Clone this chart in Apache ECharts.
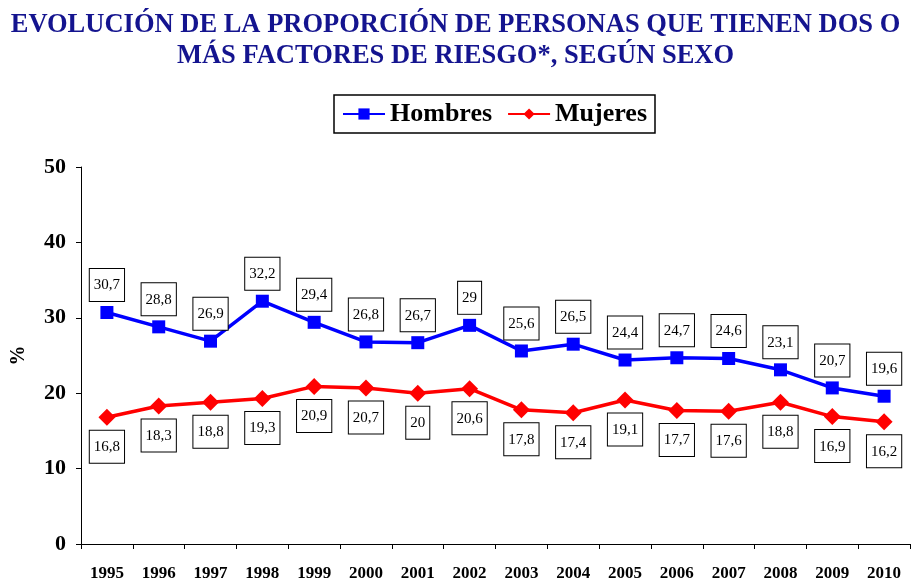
<!DOCTYPE html>
<html><head><meta charset="utf-8">
<script src="https://cdn.jsdelivr.net/npm/echarts@6/dist/echarts.min.js"></script>
<style>html,body{margin:0;padding:0;background:#fff}#c{width:911px;height:585px}</style>
</head><body><div id="c"></div>
<script>
const years = ['1995','1996','1997','1998','1999','2000','2001','2002','2003','2004','2005','2006','2007','2008','2009','2010'];
const hombres = [30.7,28.8,26.9,32.2,29.4,26.8,26.7,29,25.6,26.5,24.4,24.7,24.6,23.1,20.7,19.6];
const mujeres = [16.8,18.3,18.8,19.3,20.9,20.7,20,20.6,17.8,17.4,19.1,17.7,17.6,18.8,16.9,16.2];
const yTicks = {min:0,max:50,interval:10};
const serif = '"Liberation Serif","Times New Roman",serif';
const fmt = p => String(p.value).replace('.', ',');
const boxLabel = (pos) => ({
  show:true, position:pos, distance:5, formatter:fmt,
  fontFamily:serif, fontSize:15, color:'#000',
  backgroundColor:'#fff', borderColor:'#000', borderWidth:1, padding:[9,4,8,4]
});
const chart = echarts.init(document.getElementById('c'));
chart.setOption({
  animation:false,
  title:{text:'EVOLUCIÓN DE LA PROPORCIÓN DE PERSONAS QUE TIENEN DOS O\nMÁS FACTORES DE RIESGO*, SEGÚN SEXO', left:'center', top:5,
    textStyle:{fontFamily:serif, fontWeight:'bold', fontSize:26.5, color:'#14148f', lineHeight:31}},
  legend:{left:334, top:95, data:['Hombres','Mujeres'], borderColor:'#000', borderWidth:1.5, padding:[6,8,6,8],
    itemWidth:42, itemHeight:14, itemGap:15,
    textStyle:{fontFamily:serif, fontWeight:'bold', fontSize:26, color:'#000'}},
  grid:{left:81, right:1, top:167, bottom:41, containLabel:false, outerBoundsMode:'none'},
  xAxis:{type:'category', data:years, boundaryGap:true,
    axisLine:{lineStyle:{color:'#000', width:1}},
    axisTick:{show:true, inside:false, length:5, lineStyle:{color:'#000'}},
    axisLabel:{fontFamily:serif, fontWeight:'bold', fontSize:17, color:'#000', margin:21, interval:0}},
  yAxis:{type:'value', min:yTicks.min, max:yTicks.max, interval:yTicks.interval,
    name:'%', nameLocation:'middle', nameRotate:90, nameGap:52,
    nameTextStyle:{fontFamily:serif, fontWeight:'bold', fontSize:20, color:'#000'},
    axisLine:{show:true, lineStyle:{color:'#000', width:1}},
    axisTick:{show:true, length:5, lineStyle:{color:'#000'}},
    splitLine:{show:false},
    axisLabel:{fontFamily:serif, fontWeight:'bold', fontSize:22, color:'#000', margin:15}},
  series:[
    {name:'Hombres', type:'line', data:hombres, symbol:'rect', symbolSize:13,
      lineStyle:{color:'#0000ff', width:3.5}, itemStyle:{color:'#0000ff'},
      label:boxLabel('top'), z:3},
    {name:'Mujeres', type:'line', data:mujeres, symbol:'diamond', symbolSize:17,
      lineStyle:{color:'#ff0000', width:3.5}, itemStyle:{color:'#ff0000'},
      label:boxLabel('bottom'), z:3}
  ]
});
</script></body></html>
